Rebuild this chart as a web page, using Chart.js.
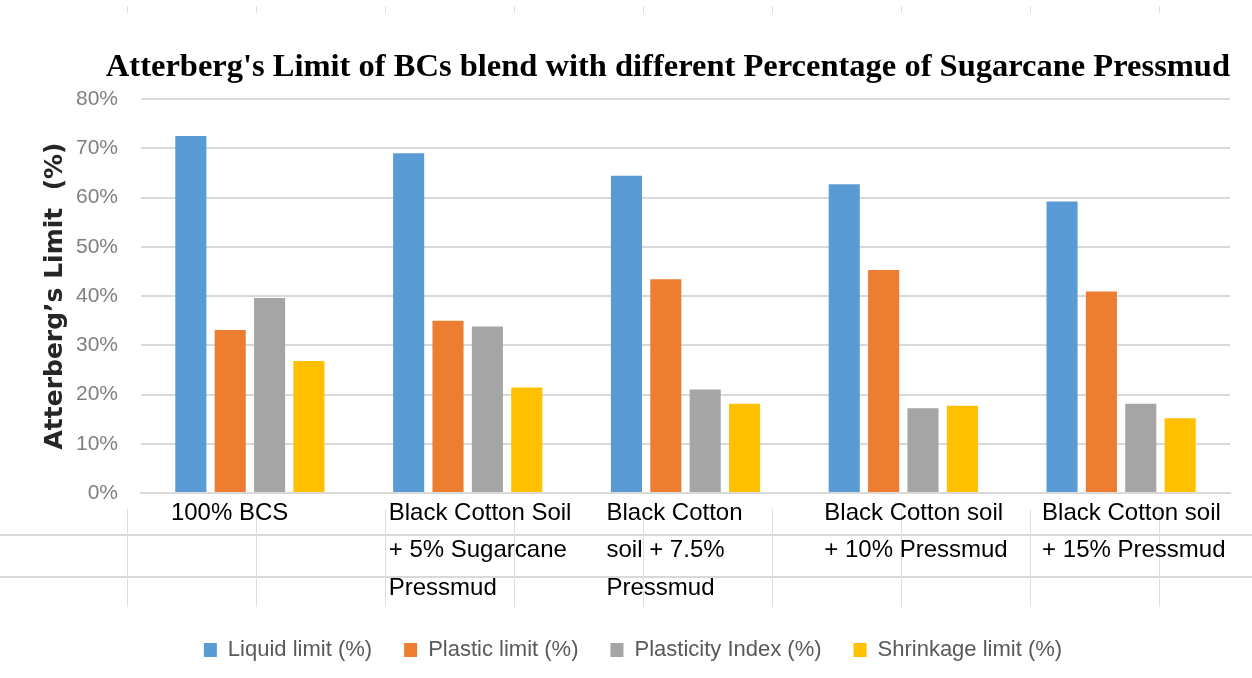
<!DOCTYPE html>
<html>
<head>
<meta charset="utf-8">
<script src="https://cdn.jsdelivr.net/npm/chart.js@4.4.1/dist/chart.umd.min.js"></script>
<style>
  html, body { margin: 0; padding: 0; background: #ffffff; }
  #wrap { width: 1252px; height: 678px; position: relative; }
</style>
</head>
<body>
<div id="wrap"><canvas id="chart" width="1252" height="678"></canvas></div>
<script>
// Soil mixes (multi-line category labels)
const categories = [
  ['100% BCS'],
  ['Black Cotton Soil', '+ 5% Sugarcane', 'Pressmud'],
  ['Black Cotton', 'soil + 7.5%', 'Pressmud'],
  ['Black Cotton soil', '+ 10% Pressmud'],
  ['Black Cotton soil', '+ 15% Pressmud']
];

// Atterberg limits, in percent
const liquidLimit     = [72.5, 69.0, 64.4, 62.7, 59.2];
const plasticLimit    = [33.1, 35.0, 43.4, 45.3, 40.9];
const plasticityIndex = [39.6, 33.8, 21.0, 17.2, 18.1];
const shrinkageLimit  = [26.8, 21.4, 18.1, 17.7, 15.2];

const seriesNames = ['Liquid limit (%)', 'Plastic limit (%)', 'Plasticity Index (%)', 'Shrinkage limit (%)'];
const seriesColors = ['#5B9BD5', '#ED7D31', '#A5A5A5', '#FFC000'];

const yMin = 0, yMax = 80, yStep = 10;

const sans = '"Liberation Sans", Arial, sans-serif';

// Light spreadsheet cell borders sitting behind the category labels
const cellGrid = {
  id: 'cellGrid',
  beforeDraw(chart) {
    const ctx = chart.ctx;
    const w = chart.width;
    ctx.save();
    ctx.strokeStyle = '#d9d9d9';
    ctx.lineWidth = 2;
    [535, 577].forEach(y => {
      ctx.beginPath(); ctx.moveTo(0, y); ctx.lineTo(w, y); ctx.stroke();
    });
    ctx.lineWidth = 1;
    ctx.strokeStyle = '#dedede';
    for (let x = 127; x < w; x += 129) {
      ctx.beginPath(); ctx.moveTo(x + 0.5, 509); ctx.lineTo(x + 0.5, 607); ctx.stroke();
      ctx.beginPath(); ctx.moveTo(x + 0.5, 6); ctx.lineTo(x + 0.5, 13); ctx.stroke();
    }
    ctx.restore();
  }
};

new Chart(document.getElementById('chart'), {
  type: 'bar',
  data: {
    labels: categories,
    datasets: [liquidLimit, plasticLimit, plasticityIndex, shrinkageLimit].map((vals, i) => ({
      label: seriesNames[i],
      data: vals,
      backgroundColor: seriesColors[i],
      borderWidth: 0,
      categoryPercentage: 0.723,
      barPercentage: 0.79
    }))
  },
  options: {
    responsive: false,
    animation: false,
    layout: { padding: { left: 36, right: 22, top: 0, bottom: 7 } },
    plugins: {
      title: {
        display: true,
        align: 'end',
        text: "Atterberg's Limit of BCs blend with different Percentage of Sugarcane Pressmud",
        color: '#000000',
        font: { family: '"Liberation Serif", "Times New Roman", serif', size: 32.5, weight: 'bold', lineHeight: 1.2 },
        padding: { top: 48, bottom: 12 }
      },
      legend: {
        position: 'bottom',
        labels: {
          color: '#595959',
          font: { family: sans, size: 22 },
          boxWidth: 13,
          boxHeight: 14,
          padding: 32
        }
      },
      tooltip: { enabled: false }
    },
    scales: {
      x: {
        grid: { display: false, drawTicks: false },
        border: { display: true, color: '#d9d9d9', width: 2 },
        ticks: {
          color: '#000000',
          font: { family: sans, size: 24, lineHeight: 1.55 },
          align: 'start',
          labelOffset: -79,
          padding: 2,
          maxRotation: 0,
          minRotation: 0,
          autoSkip: false
        },
        afterFit(scale) {
          scale.height = 114;
          scale.paddingLeft = 0;
          scale.paddingRight = 0;
        }
      },
      y: {
        min: yMin,
        max: yMax,
        grid: { color: '#d9d9d9', lineWidth: 2, drawTicks: false },
        border: { display: false },
        ticks: {
          stepSize: yStep,
          color: '#7f7f7f',
          font: { family: sans, size: 21 },
          padding: 23,
          callback: v => v + '%'
        },
        title: {
          display: true,
          text: "Atterberg\u2019s Limit  (%)",
          color: '#262626',
          font: { family: '"DejaVu Sans", Verdana, sans-serif', size: 25, weight: 'bold', lineHeight: 1.2 },
          padding: { top: 4, bottom: 0 }
        },
        afterFit(scale) { scale.width = 105; }
      }
    }
  },
  plugins: [cellGrid]
});
</script>
</body>
</html>
